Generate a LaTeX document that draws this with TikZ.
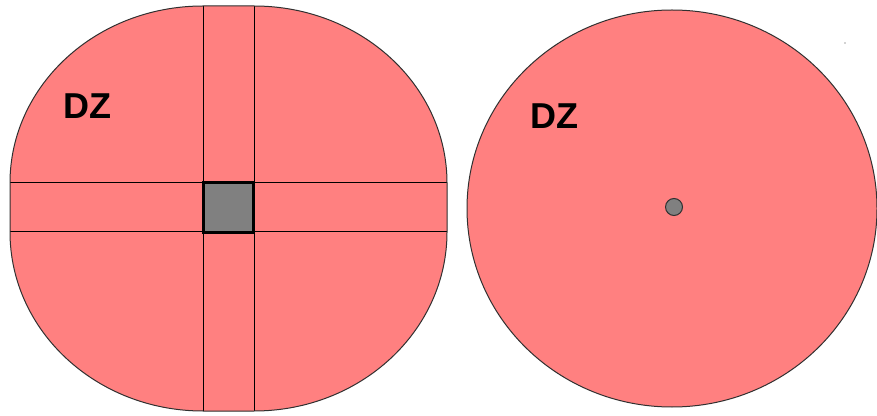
\documentclass[tikz,border=0pt]{standalone}
\usepackage{fontspec}
\setmainfont{Liberation Sans}
\definecolor{dzpink}{HTML}{FF8080}
\definecolor{dzgray}{HTML}{808080}
\definecolor{edge}{HTML}{303030}
\tikzset{
  zone/.style={fill=dzpink, draw=edge, line width=1pt},
  strip/.style={draw=black, line width=1pt},
  label/.style={font=\bfseries\fontsize{36}{36}\selectfont, inner sep=0pt, text=black},
  core/.style={fill=dzgray, draw=black, line width=3pt, minimum size=50pt, inner sep=0pt},
  dot/.style={circle, fill=dzgray, draw=edge, line width=1pt, minimum size=17pt, inner sep=0pt}
}
\begin{document}
\begin{tikzpicture}[x=1pt,y=1pt]
\useasboundingbox (0,0) rectangle (877,415);
% left zone
\fill[dzpink] (10,183) -- (10,232)
  arc[start angle=180,end angle=90,x radius=193pt,y radius=177pt] -- (254,409)
  arc[start angle=90,end angle=0,x radius=193pt,y radius=177pt] -- (447,183)
  arc[start angle=0,end angle=-90,x radius=193pt,y radius=179pt] -- (203,4)
  arc[start angle=270,end angle=180,x radius=193pt,y radius=179pt] -- cycle;
\draw[strip] (203,4) -- (203,409);
\draw[strip] (254,4) -- (254,409);
\draw[strip] (10,183) -- (447,183);
\draw[strip] (10,232) -- (447,232);
\draw[draw=edge, line width=1pt] (10,183) -- (10,232)
  arc[start angle=180,end angle=90,x radius=193pt,y radius=177pt] -- (254,409)
  arc[start angle=90,end angle=0,x radius=193pt,y radius=177pt] -- (447,183)
  arc[start angle=0,end angle=-90,x radius=193pt,y radius=179pt] -- (203,4)
  arc[start angle=270,end angle=180,x radius=193pt,y radius=179pt] -- cycle;
\node[core] (sq) at (228.5,207.5) {};
\node[label] (dzl) at (87.5,308.5) {DZ};
% right zone
\draw[zone] (672,206.5) ellipse[x radius=205pt, y radius=198.5pt];
\node[dot] (pt) at (674,208) {};
\node[label] (dzr) at (554,298.5) {DZ};
\fill[dzgray!70] (845,372) circle[radius=0.8pt];
\end{tikzpicture}
\end{document}
